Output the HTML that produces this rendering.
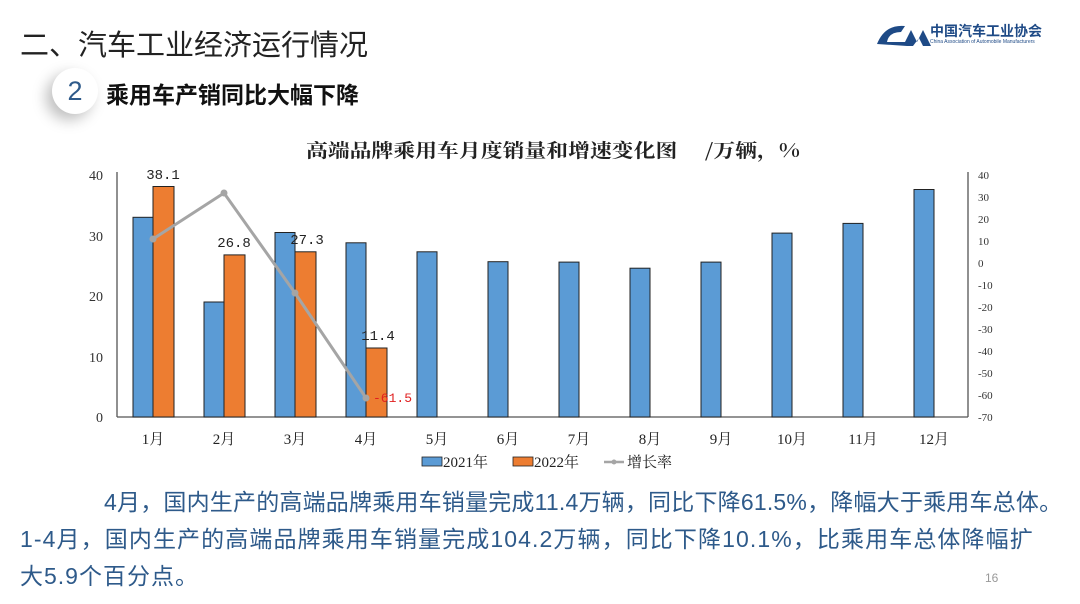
<!DOCTYPE html>
<html><head><meta charset="utf-8"><style>
body{margin:0;width:1080px;height:604px;background:#fff;overflow:hidden;position:relative;font-family:"Liberation Sans","Noto Sans CJK SC",sans-serif}
.t1{position:absolute;left:20px;top:22px;font-size:29px;color:#222}
.circ{position:absolute;left:52px;top:68px;width:46px;height:46px;border-radius:50%;background:#fff;box-shadow:-6px 6px 14px rgba(0,0,0,.25);font-size:27px;color:#2e5a8a;text-align:center;line-height:46px}
.t2{position:absolute;left:106px;top:76px;font-size:23px;font-weight:bold;color:#111}
.txt{position:absolute;left:20px;font-size:23px;color:#2e5a8a;white-space:nowrap}
</style></head><body>
<div class="t1">二、汽车工业经济运行情况</div>
<div class="circ">2</div>
<div class="t2">乘用车产销同比大幅下降</div>
<svg style="position:absolute;left:875px;top:20px" width="60" height="30"><path d="M2 24 Q10 4 30 6 L26 12 Q14 12 12 22 L30 22 L36 10 L42 22 L48 10 L56 26 L48 26 L44 18 L38 26 L32 26 Z" fill="#1e4a86"/></svg>
<div style="position:absolute;left:930px;top:21px;font-size:14px;font-weight:bold;color:#1e4a86">中国汽车工业协会</div>
<div style="position:absolute;left:930px;top:39px;font-size:5px;color:#1e4a86">China Association of Automobile Manufacturers</div>
<svg style="position:absolute;left:0;top:0" width="1080" height="604" font-family="Liberation Serif,'Noto Serif CJK SC',serif">
<text x="306" y="157" font-size="19" font-weight="bold" font-family="'Noto Serif CJK SC',serif" fill="#222" textLength="494" lengthAdjust="spacingAndGlyphs">高端品牌乘用车月度销量和增速变化图　 /万辆，%</text>
<g font-size="14" fill="#333" text-anchor="end">
<text x="103" y="180">40</text><text x="103" y="241">30</text><text x="103" y="301">20</text><text x="103" y="362">10</text><text x="103" y="422">0</text>
</g>
<g font-size="11" fill="#333">
<text x="978" y="179">40</text><text x="978" y="201">30</text><text x="978" y="223">20</text><text x="978" y="245">10</text><text x="978" y="267">0</text><text x="978" y="289">-10</text><text x="978" y="311">-20</text><text x="978" y="333">-30</text><text x="978" y="355">-40</text><text x="978" y="377">-50</text><text x="978" y="399">-60</text><text x="978" y="421">-70</text>
</g>
<line x1="117" y1="172" x2="117" y2="417" stroke="#555" stroke-width="1.3"/>
<line x1="117" y1="417" x2="968" y2="417" stroke="#555" stroke-width="1.3"/>
<line x1="968" y1="172" x2="968" y2="417" stroke="#555" stroke-width="1.3"/>
<g fill="#5b9bd5" stroke="#222" stroke-width="1">
<rect x="133" y="217.3" width="20" height="199.7"/>
<rect x="204" y="302" width="20" height="115"/>
<rect x="275" y="232.5" width="20" height="184.5"/>
<rect x="346" y="242.8" width="20" height="174.2"/>
<rect x="417" y="251.8" width="20" height="165.2"/>
<rect x="488" y="261.7" width="20" height="155.3"/>
<rect x="559" y="262.1" width="20" height="154.9"/>
<rect x="630" y="268.2" width="20" height="148.8"/>
<rect x="701" y="262.1" width="20" height="154.9"/>
<rect x="772" y="233.1" width="20" height="183.9"/>
<rect x="843" y="223.4" width="20" height="193.6"/>
<rect x="914" y="189.5" width="20" height="227.5"/>
</g>
<g fill="#ed7d31" stroke="#222" stroke-width="1">
<rect x="153" y="186.5" width="21" height="230.5"/>
<rect x="224" y="254.9" width="21" height="162.1"/>
<rect x="295" y="251.8" width="21" height="165.2"/>
<rect x="366" y="348" width="21" height="69"/>
</g>
<polyline points="153,239 224,193 295,293 366,398" fill="none" stroke="#a5a5a5" stroke-width="3"/>
<g fill="#a5a5a5"><circle cx="153" cy="239" r="3.5"/><circle cx="224" cy="193" r="3.5"/><circle cx="295" cy="293" r="3.5"/><circle cx="366" cy="398" r="3.5"/></g>
<g font-size="14" fill="#222" font-family="Liberation Mono,monospace" text-anchor="middle">
<text x="163" y="179">38.1</text><text x="234" y="247">26.8</text><text x="307" y="244">27.3</text><text x="378" y="340">11.4</text>
</g>
<text x="373" y="402" font-size="13" font-family="Liberation Mono,monospace" fill="#e02020">-61.5</text>
<g font-size="15" fill="#222" text-anchor="middle">
<text x="153" y="444">1月</text><text x="224" y="444">2月</text><text x="295" y="444">3月</text><text x="366" y="444">4月</text><text x="437" y="444">5月</text><text x="508" y="444">6月</text><text x="579" y="444">7月</text><text x="650" y="444">8月</text><text x="721" y="444">9月</text><text x="792" y="444">10月</text><text x="863" y="444">11月</text><text x="934" y="444">12月</text>
</g>
<rect x="422" y="457" width="20" height="9" fill="#5b9bd5" stroke="#222" stroke-width=".8"/>
<text x="443" y="467" font-size="15" fill="#222">2021年</text>
<rect x="513" y="457" width="20" height="9" fill="#ed7d31" stroke="#222" stroke-width=".8"/>
<text x="534" y="467" font-size="15" fill="#222">2022年</text>
<line x1="604" y1="462" x2="624" y2="462" stroke="#a5a5a5" stroke-width="2.5"/><circle cx="614" cy="462" r="2.5" fill="#a5a5a5"/>
<text x="627" y="467" font-size="15" fill="#222">增长率</text>
<text x="985" y="582" font-size="12" fill="#999" font-family="Liberation Sans,sans-serif">16</text>
</svg>
<div class="txt" style="left:104px;top:483px;letter-spacing:0.2px">4月，国内生产的高端品牌乘用车销量完成11.4万辆，同比下降61.5%，降幅大于乘用车总体。</div>
<div class="txt" style="top:520px;letter-spacing:1.1px">1-4月，国内生产的高端品牌乘用车销量完成104.2万辆，同比下降10.1%，比乘用车总体降幅扩</div>
<div class="txt" style="top:557px;letter-spacing:1px">大5.9个百分点。</div>
</body></html>
